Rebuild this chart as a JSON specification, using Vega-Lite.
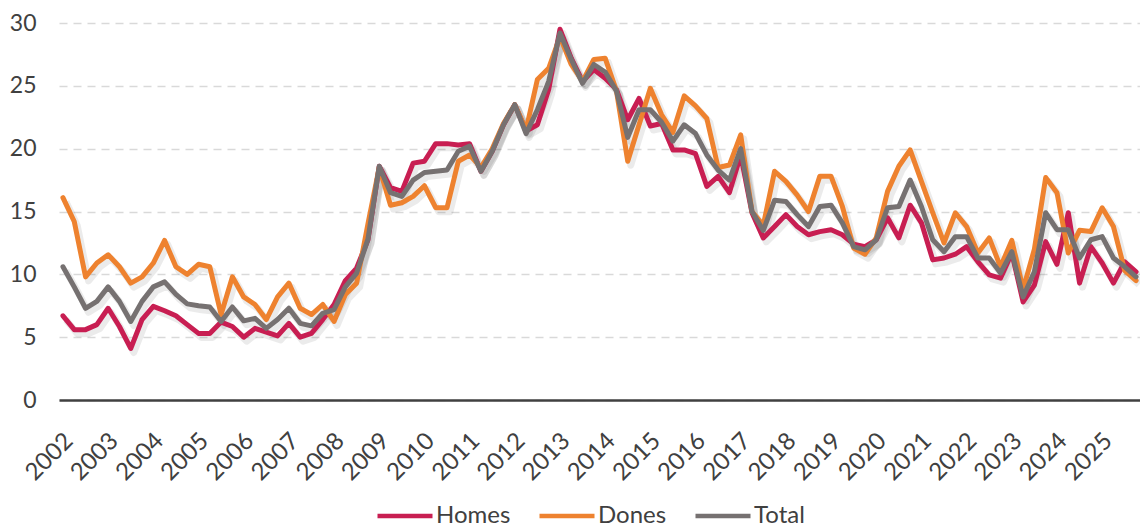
{
  "$schema": "https://vega.github.io/schema/vega-lite/v6.json",
  "width": 1081,
  "height": 377,
  "autosize": {"type": "none"},
  "padding": {"left": 59, "top": 23, "right": 0, "bottom": 127},
  "background": "white",
  "config": {
    "view": {"stroke": null},
    "font": "Lato",
    "axis": {"labelFont": "Lato", "labelColor": "#404040", "labelFontSize": 23},
    "legend": {"labelFont": "Lato", "labelColor": "#404040", "labelFontSize": 24}
  },
  "data": {
    "values": [
      {"q":"2002-1","Homes":6.7,"Dones":16.1,"Total":10.6},
      {"q":"2002-2","Homes":5.6,"Dones":14.2,"Total":9.0},
      {"q":"2002-3","Homes":5.6,"Dones":9.8,"Total":7.3},
      {"q":"2002-4","Homes":6.0,"Dones":10.9,"Total":7.85},
      {"q":"2003-1","Homes":7.3,"Dones":11.56,"Total":9.0},
      {"q":"2003-2","Homes":5.85,"Dones":10.6,"Total":7.85},
      {"q":"2003-3","Homes":4.1,"Dones":9.3,"Total":6.25},
      {"q":"2003-4","Homes":6.4,"Dones":9.8,"Total":7.85},
      {"q":"2004-1","Homes":7.45,"Dones":10.9,"Total":9.0},
      {"q":"2004-2","Homes":7.1,"Dones":12.7,"Total":9.4},
      {"q":"2004-3","Homes":6.7,"Dones":10.6,"Total":8.4},
      {"q":"2004-4","Homes":6.0,"Dones":10.0,"Total":7.65},
      {"q":"2005-1","Homes":5.3,"Dones":10.8,"Total":7.5},
      {"q":"2005-2","Homes":5.3,"Dones":10.6,"Total":7.4},
      {"q":"2005-3","Homes":6.2,"Dones":6.8,"Total":6.25},
      {"q":"2005-4","Homes":5.85,"Dones":9.8,"Total":7.4},
      {"q":"2006-1","Homes":5.0,"Dones":8.2,"Total":6.3},
      {"q":"2006-2","Homes":5.7,"Dones":7.6,"Total":6.5},
      {"q":"2006-3","Homes":5.4,"Dones":6.4,"Total":5.7},
      {"q":"2006-4","Homes":5.1,"Dones":8.2,"Total":6.4},
      {"q":"2007-1","Homes":6.1,"Dones":9.3,"Total":7.3},
      {"q":"2007-2","Homes":5.0,"Dones":7.3,"Total":6.1},
      {"q":"2007-3","Homes":5.3,"Dones":6.8,"Total":5.9},
      {"q":"2007-4","Homes":6.4,"Dones":7.6,"Total":6.9},
      {"q":"2008-1","Homes":7.6,"Dones":6.25,"Total":7.2},
      {"q":"2008-2","Homes":9.5,"Dones":8.4,"Total":9.0},
      {"q":"2008-3","Homes":10.5,"Dones":9.3,"Total":10.1},
      {"q":"2008-4","Homes":12.75,"Dones":14.0,"Total":12.8},
      {"q":"2009-1","Homes":18.6,"Dones":18.5,"Total":18.6},
      {"q":"2009-2","Homes":16.9,"Dones":15.5,"Total":16.5},
      {"q":"2009-3","Homes":16.6,"Dones":15.7,"Total":16.2},
      {"q":"2009-4","Homes":18.85,"Dones":16.2,"Total":17.5},
      {"q":"2010-1","Homes":19.0,"Dones":17.05,"Total":18.1},
      {"q":"2010-2","Homes":20.4,"Dones":15.3,"Total":18.2},
      {"q":"2010-3","Homes":20.4,"Dones":15.3,"Total":18.3},
      {"q":"2010-4","Homes":20.3,"Dones":19.0,"Total":19.8},
      {"q":"2011-1","Homes":20.4,"Dones":19.5,"Total":20.2},
      {"q":"2011-2","Homes":18.2,"Dones":18.5,"Total":18.2},
      {"q":"2011-3","Homes":19.8,"Dones":20.0,"Total":19.8},
      {"q":"2011-4","Homes":21.9,"Dones":22.0,"Total":21.9},
      {"q":"2012-1","Homes":23.5,"Dones":23.5,"Total":23.5},
      {"q":"2012-2","Homes":21.4,"Dones":21.5,"Total":21.2},
      {"q":"2012-3","Homes":21.9,"Dones":25.5,"Total":23.1},
      {"q":"2012-4","Homes":24.7,"Dones":26.4,"Total":25.35},
      {"q":"2013-1","Homes":29.5,"Dones":28.9,"Total":29.2},
      {"q":"2013-2","Homes":27.2,"Dones":26.7,"Total":27.1},
      {"q":"2013-3","Homes":25.35,"Dones":25.35,"Total":25.2},
      {"q":"2013-4","Homes":26.3,"Dones":27.1,"Total":26.7},
      {"q":"2014-1","Homes":25.6,"Dones":27.2,"Total":26.1},
      {"q":"2014-2","Homes":24.7,"Dones":24.6,"Total":24.6},
      {"q":"2014-3","Homes":22.3,"Dones":19.0,"Total":20.9},
      {"q":"2014-4","Homes":24.0,"Dones":21.9,"Total":23.1},
      {"q":"2015-1","Homes":21.8,"Dones":24.8,"Total":23.1},
      {"q":"2015-2","Homes":22.0,"Dones":22.7,"Total":22.1},
      {"q":"2015-3","Homes":19.9,"Dones":21.3,"Total":20.6},
      {"q":"2015-4","Homes":19.9,"Dones":24.2,"Total":21.9},
      {"q":"2016-1","Homes":19.6,"Dones":23.4,"Total":21.2},
      {"q":"2016-2","Homes":17.0,"Dones":22.4,"Total":19.5},
      {"q":"2016-3","Homes":17.8,"Dones":18.5,"Total":18.3},
      {"q":"2016-4","Homes":16.5,"Dones":18.7,"Total":17.5},
      {"q":"2017-1","Homes":19.5,"Dones":21.1,"Total":20.0},
      {"q":"2017-2","Homes":14.9,"Dones":15.0,"Total":15.0},
      {"q":"2017-3","Homes":12.9,"Dones":13.9,"Total":13.5},
      {"q":"2017-4","Homes":13.8,"Dones":18.2,"Total":15.9},
      {"q":"2018-1","Homes":14.75,"Dones":17.4,"Total":15.8},
      {"q":"2018-2","Homes":13.8,"Dones":16.3,"Total":14.75},
      {"q":"2018-3","Homes":13.15,"Dones":15.0,"Total":13.8},
      {"q":"2018-4","Homes":13.4,"Dones":17.8,"Total":15.4},
      {"q":"2019-1","Homes":13.55,"Dones":17.8,"Total":15.5},
      {"q":"2019-2","Homes":13.15,"Dones":15.4,"Total":14.1},
      {"q":"2019-3","Homes":12.4,"Dones":12.1,"Total":12.2},
      {"q":"2019-4","Homes":12.2,"Dones":11.6,"Total":11.95},
      {"q":"2020-1","Homes":12.75,"Dones":12.9,"Total":12.75},
      {"q":"2020-2","Homes":14.5,"Dones":16.6,"Total":15.3},
      {"q":"2020-3","Homes":12.9,"Dones":18.6,"Total":15.4},
      {"q":"2020-4","Homes":15.5,"Dones":19.9,"Total":17.5},
      {"q":"2021-1","Homes":14.1,"Dones":17.4,"Total":15.4},
      {"q":"2021-2","Homes":11.15,"Dones":14.9,"Total":12.75},
      {"q":"2021-3","Homes":11.3,"Dones":12.5,"Total":11.8},
      {"q":"2021-4","Homes":11.6,"Dones":14.9,"Total":13.0},
      {"q":"2022-1","Homes":12.2,"Dones":13.8,"Total":13.0},
      {"q":"2022-2","Homes":11.0,"Dones":11.7,"Total":11.3},
      {"q":"2022-3","Homes":9.95,"Dones":12.9,"Total":11.3},
      {"q":"2022-4","Homes":9.7,"Dones":10.6,"Total":10.1},
      {"q":"2023-1","Homes":11.7,"Dones":12.7,"Total":11.8},
      {"q":"2023-2","Homes":7.8,"Dones":8.8,"Total":8.2},
      {"q":"2023-3","Homes":9.15,"Dones":12.0,"Total":10.2},
      {"q":"2023-4","Homes":12.6,"Dones":17.7,"Total":14.9},
      {"q":"2024-1","Homes":10.8,"Dones":16.5,"Total":13.55},
      {"q":"2024-2","Homes":14.9,"Dones":11.7,"Total":13.55},
      {"q":"2024-3","Homes":9.3,"Dones":13.5,"Total":11.3},
      {"q":"2024-4","Homes":12.2,"Dones":13.4,"Total":12.75},
      {"q":"2025-1","Homes":10.9,"Dones":15.3,"Total":13.0},
      {"q":"2025-2","Homes":9.3,"Dones":13.8,"Total":11.3},
      {"q":"2025-3","Homes":11.0,"Dones":10.3,"Total":10.6},
      {"q":"2025-4","Homes":10.2,"Dones":9.5,"Total":9.8}
    ]
  },
  "transform": [
    {"fold": ["Homes", "Dones", "Total"], "as": ["serie", "valor"]}
  ],
  "encoding": {
    "x": {
      "field": "q",
      "type": "ordinal",
      "sort": null,
      "scale": {"type": "point", "padding": 0.35},
      "axis": {
        "title": null,
        "labelAngle": -45,
        "labelAlign": "right",
        "labelBaseline": "middle",
        "labelOverlap": false,
        "labelPadding": 37,
        "labelOffset": 6,
        "labelFontSize": 24,
        "labelExpr": "substring(datum.label, 5, 6) == '1' ? substring(datum.label, 0, 4) : ''",
        "ticks": false,
        "domain": true,
        "domainColor": "#404040",
        "domainWidth": 2.5,
        "grid": false,
        "zindex": 1
      }
    },
    "y": {
      "field": "valor",
      "type": "quantitative",
      "scale": {"domain": [0, 30], "nice": false},
      "axis": {
        "title": null,
        "values": [0, 5, 10, 15, 20, 25, 30],
        "domain": false,
        "ticks": false,
        "labelPadding": 23,
        "grid": true,
        "gridColor": "#d9d9d9",
        "gridWidth": 1.5,
        "gridDash": [8, 6],
        "zindex": 0
      }
    }
  },
  "layer": [
    {
      "mark": {"type": "line", "strokeWidth": 7, "strokeJoin": "round", "color": "#000000", "opacity": 0.08, "xOffset": 3, "yOffset": 4},
      "encoding": {"detail": {"field": "serie", "type": "nominal"}}
    },
    {
      "mark": {"type": "line", "strokeWidth": 5, "strokeJoin": "round", "strokeCap": "round"},
      "encoding": {
        "color": {
          "field": "serie",
          "type": "nominal",
          "sort": ["Homes", "Dones", "Total"],
          "scale": {"domain": ["Homes", "Dones", "Total"], "range": ["#C81E52", "#EE822F", "#767171"]},
          "legend": {
            "title": null,
            "orient": "none",
            "legendX": 316,
            "legendY": 463,
            "padding": 0,
            "direction": "horizontal",
            "symbolType": "stroke",
            "symbolStrokeWidth": 4.5,
            "symbolSize": 3025,
            "columnPadding": 19,
            "labelOffset": 1
          }
        }
      }
    }
  ]
}
